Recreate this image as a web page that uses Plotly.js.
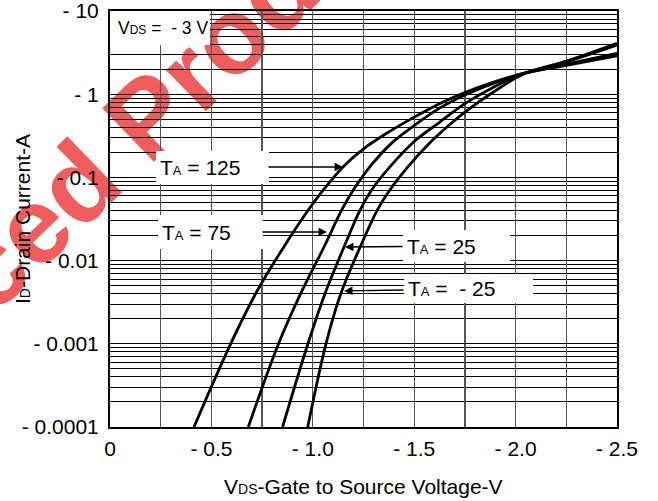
<!DOCTYPE html>
<html>
<head>
<meta charset="utf-8">
<script src="https://cdn.plot.ly/plotly-3.0.1.min.js"></script>
<style>html,body{margin:0;padding:0;background:#fff;}</style>
</head>
<body>
<div id="chart" style="width:658px;height:501px;"></div>
<script>
// ---- data ----
const vgs125 = [0.414, 0.595, 0.728, 0.863, 0.978, 1.052, 1.15, 1.25, 1.364, 1.5, 1.625, 1.75, 1.9, 2.04, 2.25, 2.5];
const id125  = [1e-4, 1e-3, 4.43e-3, 0.0154, 0.0405, 0.0706, 0.1345, 0.22, 0.339, 0.53, 0.77, 1.05, 1.42, 1.78, 2.22, 2.9];

const vgs75 = [0.682, 0.831, 0.94, 1.06, 1.142, 1.2, 1.282, 1.39, 1.5, 1.625, 1.75, 1.9, 2.04, 2.25, 2.5];
const id75  = [1e-4, 1e-3, 4e-3, 0.0154, 0.0405, 0.0706, 0.1345, 0.26, 0.42, 0.68, 0.98, 1.38, 1.78, 2.3, 3.1];

const vgs25 = [0.851, 0.976, 1.06, 1.158, 1.233, 1.29, 1.381, 1.5, 1.625, 1.75, 1.9, 2.04, 2.25, 2.5];
const id25  = [1e-4, 1e-3, 4e-3, 0.0154, 0.0405, 0.0706, 0.1345, 0.27, 0.46, 0.77, 1.25, 1.78, 2.45, 3.9];

const vgsM25 = [0.975, 1.065, 1.138, 1.238, 1.318, 1.38, 1.47, 1.57, 1.66, 1.75, 1.9, 2.04, 2.25, 2.5];
const idM25  = [1e-4, 1e-3, 4e-3, 0.0154, 0.0405, 0.0706, 0.1345, 0.25, 0.40, 0.61, 1.1, 1.75, 2.5, 4.1];

const xTickVals = [0, 0.25, 0.5, 0.75, 1.0, 1.25, 1.5, 1.75, 2.0, 2.25, 2.5];
const xTickText = ['0', '', '- 0.5', '', '- 1.0', '', '- 1.5', '', '- 2.0', '', '- 2.5'];
const yTickVals = [0.0001, 0.001, 0.01, 0.1, 1, 10];
const yTickText = ['- 0.0001', '- 0.001', '- 0.01', '- 0.1', '- 1', '- 10'];

const curveLabels = ['T<span style="font-size:13px">A</span> = 125',
                     'T<span style="font-size:13px">A</span> = 75',
                     'T<span style="font-size:13px">A</span> = 25',
                     'T<span style="font-size:13px">A</span> =\u00a0 - 25'];
const condLabel = 'V<span style="font-size:12px">DS</span> =\u00a0 - 3 V';
const xTitle = 'V<span style="font-size:14px">DS</span>-Gate to Source Voltage-V';
const yTitle = 'I<span style="font-size:14px">D</span>-Drain Current-A';
const watermarkText = 'Advanced Product';

// ---- figure ----
const FONT = 'Liberation Sans, Arial, sans-serif';
const lineStyle = {color: 'black', width: 2.8, shape: 'spline', smoothing: 1};
const traces = [
  {x: vgs125, y: id125, mode: 'lines', line: lineStyle},
  {x: vgs75, y: id75, mode: 'lines', line: lineStyle},
  {x: vgs25, y: id25, mode: 'lines', line: lineStyle},
  {x: vgsM25, y: idM25, mode: 'lines', line: lineStyle}
];

const minorY = [];
for (let e = -4; e < 1; e++) for (let k = 2; k <= 9; k++) minorY.push(k * Math.pow(10, e));

const PAD = 4;
function lbl(text, x, logy, ax, ay, w, h) {
  return {text: text, x: x, y: logy, xref: 'x', yref: 'y', showarrow: true,
          ax: ax, ay: ay, arrowhead: 2, arrowsize: 1.3, arrowwidth: 1.3, arrowcolor: 'black',
          standoff: 0, startstandoff: 0,
          bgcolor: 'white', borderpad: PAD, borderwidth: 0, width: w - 2 * PAD, height: h - 2 * PAD,
          align: 'left', valign: 'middle', font: {size: 21, family: FONT, color: 'black'}};
}

// pixel -> paper helpers for the fixed 507x416 plot area at (110, 11)
const px = p => (p - 110) / 507;
const py = p => (427 - p) / 416;

const layout = {
  width: 658, height: 501,
  margin: {l: 110, r: 41, t: 11, b: 74},
  paper_bgcolor: 'white', plot_bgcolor: 'rgba(0,0,0,0)',
  showlegend: false, hovermode: false,
  font: {family: FONT, size: 21, color: 'black'},
  xaxis: {range: [0, 2.5], tickmode: 'array', tickvals: xTickVals, ticktext: xTickText,
          showgrid: true, gridcolor: '#555', gridwidth: 1.3, zeroline: false,
          showline: true, mirror: true, linecolor: 'black', linewidth: 2,
          ticks: '', ticklabelstandoff: 2, ticklabeloverflow: 'allow', tickfont: {size: 21}},
  yaxis: {type: 'log', range: [-4, 1], tickmode: 'array', tickvals: yTickVals, ticktext: yTickText,
          showgrid: true, gridcolor: 'black', gridwidth: 1, zeroline: false,
          showline: true, mirror: true, linecolor: 'black', linewidth: 2,
          ticks: '', ticklabelstandoff: 5, ticklabeloverflow: 'allow', tickfont: {size: 21},
          minor: {tickmode: 'array', tickvals: minorY, showgrid: true, gridcolor: 'black', gridwidth: 1, ticks: ''}},
  shapes: [
    {type: 'line', xref: 'paper', yref: 'paper', x0: -0.2286, y0: 0.4255, x1: 0.055, y1: 0.7596,
     layer: 'below', line: {color: 'rgba(0,0,0,0)', width: 1},
     label: {text: watermarkText, textposition: 'middle', xanchor: 'center', yanchor: 'middle',
             textangle: 'auto', padding: 0,
             font: {size: 108, family: FONT, color: 'rgb(241,92,92)', weight: 'bold'}}},
    {type: 'rect', xref: 'paper', yref: 'paper', x0: px(110), x1: px(210), y0: py(45), y1: py(11),
     layer: 'above', fillcolor: 'white', line: {width: 0}}
  ],
  annotations: [
    {text: condLabel, xref: 'paper', yref: 'paper', x: px(116), y: py(28), xanchor: 'left', yanchor: 'middle',
     showarrow: false, font: {size: 17.5, family: FONT, color: 'black'}},
    {text: xTitle, xref: 'paper', yref: 'paper', x: 0.5, y: py(486), xanchor: 'center', yanchor: 'middle',
     showarrow: false, font: {size: 21, family: FONT, color: 'black'}},
    {text: yTitle, xref: 'paper', yref: 'paper', x: px(22), y: 0.5, xanchor: 'center', yanchor: 'middle',
     textangle: -90, showarrow: false, font: {size: 21, family: FONT, color: 'black'}},
    lbl(curveLabels[0], 1.149, -0.875, -131, 0, 113, 33),
    lbl(curveLabels[1], 1.07, -1.656, -117, 0, 105, 34),
    lbl(curveLabels[2], 1.159, -1.837, 111, -1, 107, 32),
    lbl(curveLabels[3], 1.154, -2.365, 124, -2, 129, 29)
  ]
};

Plotly.newPlot('chart', traces, layout, {staticPlot: true, displayModeBar: false});
</script>
</body>
</html>
